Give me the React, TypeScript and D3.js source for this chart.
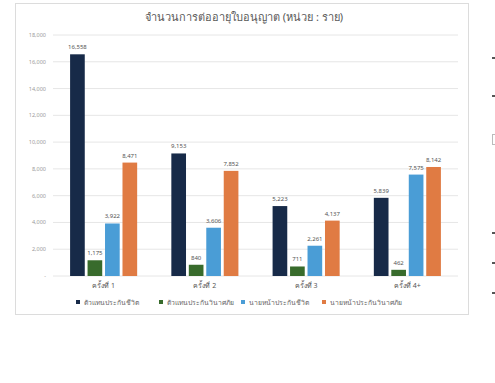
import React from "react";
import * as d3 from "d3";

const categories = ["ครั้งที่ 1", "ครั้งที่ 2", "ครั้งที่ 3", "ครั้งที่ 4+"];
const seriesNames = [
  "ตัวแทนประกันชีวิต",
  "ตัวแทนประกันวินาศภัย",
  "นายหน้าประกันชีวิต",
  "นายหน้าประกันวินาศภัย",
];
const lifeAgent = [16558, 9153, 5223, 5839];
const nonLifeAgent = [1175, 840, 711, 462];
const lifeBroker = [3922, 3606, 2261, 7575];
const nonLifeBroker = [8471, 7852, 4137, 8142];
const yTicks = [0, 2000, 4000, 6000, 8000, 10000, 12000, 14000, 16000, 18000];
const colors = ["#172a48", "#386b2c", "#4a9dd6", "#e07b43"];
const title = "จำนวนการต่ออายุใบอนุญาต (หน่วย : ราย)";

const series = [lifeAgent, nonLifeAgent, lifeBroker, nonLifeBroker];

export default function App() {
  const W = 495, H = 383;
  const left = 53, right = 458, top = 35, bottom = 276;
  const x0 = d3.scaleBand<string>().domain(categories).range([left, right]).paddingInner(0.31).paddingOuter(0.155);
  const x1 = d3.scaleBand<string>().domain(seriesNames).range([0, x0.bandwidth()]).paddingInner(0.16).paddingOuter(0.08);
  const y = d3.scaleLinear().domain([0, 18000]).range([bottom, top]);
  const fmt = d3.format(",");
  const font = "'Noto Sans', 'DejaVu Sans', sans-serif";
  const legendX = [76, 159, 241, 322];
  const sideMarks = [57, 95, 232, 262, 292];
  return (
    <svg width={W} height={H} style={{ position: "absolute", left: 0, top: 0, background: "#fff" }} fontFamily={font}>
      <rect x={15.5} y={3.5} width={453} height={311} fill="#fff" stroke="#dcdcdc" />
      <text x={244} y={21} textAnchor="middle" fontSize={11} fill="#595959">{title}</text>
      {yTicks.map((t) => (
        <g key={t}>
          <line x1={left} x2={right} y1={y(t)} y2={y(t)} stroke="#e6e6e6" strokeWidth={1} />
          <text x={46} y={y(t) + 2} textAnchor="end" fontSize={5.5} fill="#9a9a9a">{t === 0 ? "-" : fmt(t)}</text>
        </g>
      ))}
      {categories.map((c, ci) => (
        <g key={c}>
          {series.map((s, si) => {
            const bx = (x0(c) as number) + (x1(seriesNames[si]) as number);
            return (
              <g key={si}>
                <rect x={bx} y={y(s[ci])} width={x1.bandwidth()} height={bottom - y(s[ci])} fill={colors[si]} />
                <text x={bx + x1.bandwidth() / 2} y={y(s[ci]) - 5} textAnchor="middle" fontSize={6} fill="#555">{fmt(s[ci])}</text>
              </g>
            );
          })}
          <text x={(x0(c) as number) + x0.bandwidth() / 2} y={288} textAnchor="middle" fontSize={7} fill="#555">{c}</text>
        </g>
      ))}
      {seriesNames.map((n, i) => (
        <g key={n}>
          <rect x={legendX[i]} y={300} width={4} height={4} fill={colors[i]} />
          <text x={legendX[i] + 8} y={304.5} fontSize={6.8} fill="#666">{n}</text>
        </g>
      ))}
      {sideMarks.map((m) => (
        <rect key={m} x={492} y={m} width={3} height={2} fill="#555" />
      ))}
      <rect x={492.5} y={134.5} width={3} height={10} fill="none" stroke="#bbb" />
    </svg>
  );
}
